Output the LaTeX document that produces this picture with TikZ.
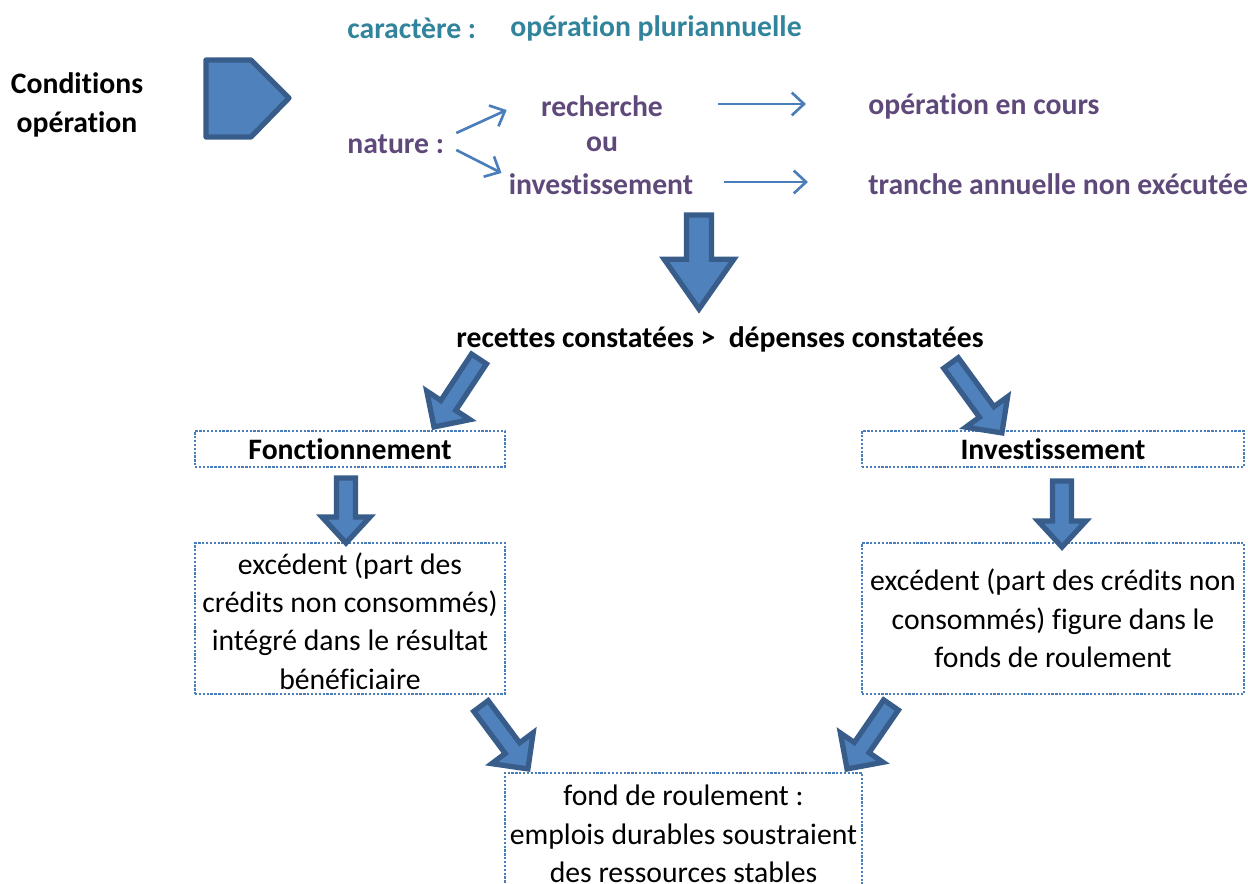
\documentclass[tikz,border=0pt]{standalone}
\usepackage{fontspec}
\setmainfont{Carlito}[Ligatures={NoCommon}]
\usetikzlibrary{arrows.meta,calc}
\definecolor{tealtxt}{HTML}{31849B}
\definecolor{purptxt}{HTML}{5F497A}
\definecolor{arrfill}{HTML}{4F81BD}
\definecolor{arrdraw}{HTML}{385D8A}
\definecolor{linecol}{HTML}{4A7EBB}
\def\pxu{0.5669pt}
\newcommand\blockarr[5]{%
  \path[blk] let \p1=(#1),\p2=(#2),\n1={atan2(\y2-\y1,\x2-\x1)},\n2={veclen(\x2-\x1,\y2-\y1)} in
  [shift={(\p1)},rotate=\n1] (0pt,{-#3*\pxu}) -- ({\n2-#5*\pxu},{-#3*\pxu}) -- ({\n2-#5*\pxu},{-#4*\pxu})
  -- ({\n2*1pt},0pt) -- ({\n2-#5*\pxu},{#4*\pxu}) -- ({\n2-#5*\pxu},{#3*\pxu}) -- (0pt,{#3*\pxu}) -- cycle;}
\newcommand\fsz{\fontsize{16.9}{21.8}\selectfont}
\tikzset{
  txt/.style={inner sep=0pt, font=\fsz},
  btxt/.style={txt, font=\fsz\bfseries},
  blk/.style={fill=arrfill, draw=arrdraw, line width=3pt, line join=miter},
  thinarr/.style={draw=linecol, line width=1.5pt, -{Straight Barb[length=7pt,width=13pt,line width=1.5pt]}},
  dbox/.style={draw=linecol, line width=1pt, dash pattern=on 1.3pt off 0.9pt, inner sep=0pt,
    align=center, font=\fsz},
}
\begin{document}
\begin{tikzpicture}[x=0.02cm,y=-0.02cm]
\useasboundingbox (0,0) rectangle (1248,884);
\clip (0,0) rectangle (1248,884);
% left label and pentagon
\node[btxt, align=center] (cond) at (77,105) {Conditions\\opération};
\draw[blk, line join=round] (206,60) -- (251,60) -- (289,98) -- (251,137) -- (206,137) -- cycle;
% top texts
\node[btxt, text=tealtxt, anchor=west] (car) at (347,28) {caractère :};
\node[btxt, text=tealtxt, anchor=west] (pluri) at (510,28) {opération pluriannuelle};
\node[btxt, text=purptxt, anchor=west] (nature) at (347,144) {nature :};
\node[btxt, text=purptxt] (rech) at (602,106) {recherche};
\node[btxt, text=purptxt] (ou) at (602,144) {ou};
\node[btxt, text=purptxt] (inv) at (601,184) {investissement};
\node[btxt, text=purptxt, anchor=west] (cours) at (868,106) {opération en cours};
\node[btxt, text=purptxt, anchor=west] (tranche) at (868,184) {tranche annuelle non exécutée};
% thin arrows
\draw[thinarr] ([shift={(12,-11)}]nature.east) -- ([shift={(-34,4)}]rech.west);
\draw[thinarr] ([shift={(12,6)}]nature.east) -- ([shift={(-7,-11)}]inv.west);
\draw[thinarr] ([shift={(55,-2)}]rech.east) -- ([shift={(-62,-2)}]cours.west);
\draw[thinarr] ([shift={(30,-2)}]inv.east) -- ([shift={(-60,-2)}]tranche.west);
% comparison
\node[btxt] (cmp) at (720,339) {recettes constatées >\ \ dépenses constatées};
% boxes
\node[dbox, minimum width=6.2cm, minimum height=0.72cm, font=\fsz\bfseries] (fonc) at (350,449) {Fonctionnement};
\node[dbox, minimum width=7.64cm, minimum height=0.72cm, font=\fsz\bfseries] (invb) at (1053,449) {Investissement};
\node[dbox, minimum width=6.2cm, minimum height=3.02cm] (exl) at (350,618.5) {\strut excédent (part des\\crédits non consommés)\\intégré dans le résultat\\bénéficiaire};
\node[dbox, minimum width=7.64cm, minimum height=3.02cm] (exr) at (1053,618.5) {excédent (part des crédits non\\consommés) figure dans le\\fonds de roulement};
\node[dbox, minimum width=7.14cm, minimum height=2.44cm] (fond) at (683.5,834) {fond de roulement :\\emplois durables soustraient\\des ressources stables};
% block arrow end points
\coordinate (m1) at (699,215); \coordinate (m2) at (699,309);
\coordinate (l1) at (479,359); \coordinate (l2) at (434,427);
\coordinate (r1) at (951,363); \coordinate (r2) at (1002,433);
\coordinate (fl1) at (346,478); \coordinate (fl2) at (346,543);
\coordinate (fr1) at (1062,481); \coordinate (fr2) at (1062,547);
\coordinate (bl1) at (481,706); \coordinate (bl2) at (528,769);
\coordinate (br1) at (891,705); \coordinate (br2) at (847,769);
\blockarr{m1}{m2}{12.5}{35}{50}
\blockarr{l1}{l2}{9}{26}{26}
\blockarr{r1}{r2}{9}{26}{26}
\blockarr{fl1}{fl2}{9.5}{24}{26}
\blockarr{fr1}{fr2}{9.5}{24}{26}
\blockarr{bl1}{bl2}{9}{26}{26}
\blockarr{br1}{br2}{9}{26}{26}
\end{tikzpicture}
\end{document}
